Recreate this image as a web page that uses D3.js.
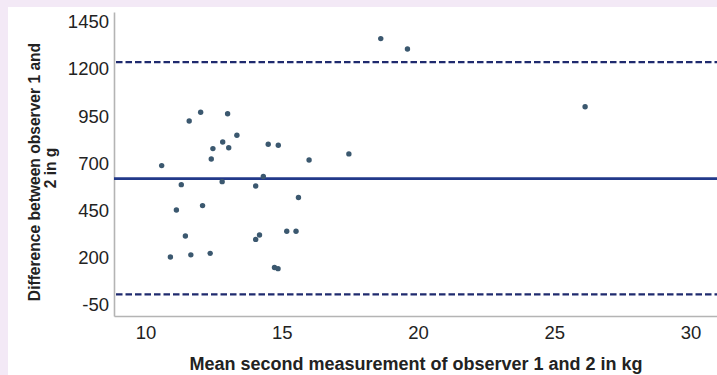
<!DOCTYPE html>
<html>
<head>
<meta charset="utf-8">
<script src="https://cdn.jsdelivr.net/npm/d3@7"></script>
<style>
    html, body { margin: 0; padding: 0; background: #f3e9f6; }
    svg { position: absolute; left: 0; top: 0; }
    text { font-family: "Liberation Sans", Arial, sans-serif; }
</style>
</head>
<body>
<script>
// Bland-Altman plot: mean of both observers vs. their difference
const meanKg = [10.59, 11.60, 12.02, 13.01, 13.35, 12.83, 12.47, 13.05, 12.41, 14.50,
    14.87, 16.00, 17.46, 11.31, 12.81, 14.32, 14.04, 11.13, 12.09, 15.61,
    11.46, 14.04, 14.18, 15.18, 15.52, 10.91, 11.66, 12.37, 14.73, 14.86,
    18.63, 19.61, 26.13];
const diffG = [684, 920, 967, 959, 845, 809, 774, 779, 719, 797,
    792, 714, 746, 583, 599, 626, 576, 449, 472, 515,
    311, 293, 316, 336, 336, 200, 211, 219, 144, 138,
    1357, 1302, 996];
const meanDiff = 615;
const limits = [1232, 2];
const xTicks = [10, 15, 20, 25, 30];
const yTicks = [-50, 200, 450, 700, 950, 1200, 1450];

const W = 717, H = 375;
const svg = d3.select("body").append("svg").attr("width", W).attr("height", H);

const x = d3.scaleLinear().domain([8.84, 30.97]).range([114, 717]);
const y = d3.scaleLinear().domain([-113, 1498]).range([316, 12]);

// white panel
svg.append("rect").attr("x", 8).attr("y", 7).attr("width", W - 8).attr("height", H - 7).attr("fill", "#fff");

const xAxis = svg.append("g").attr("transform", "translate(0,316)")
    .call(d3.axisBottom(x).tickValues(xTicks).tickSize(0).tickPadding(7).tickFormat(d => String(d)));
const yAxis = svg.append("g").attr("transform", "translate(114,0)")
    .call(d3.axisLeft(y).tickValues(yTicks).tickSize(0).tickPadding(5).tickFormat(d => String(d)));

[xAxis, yAxis].forEach(g => {
    g.select(".domain").attr("stroke", "#b4b4b4").attr("stroke-width", 1.6);
    g.selectAll("text").attr("font-size", 18.5).attr("fill", "#222")
        .style("font-family", "'Liberation Sans', Arial, sans-serif");
});
xAxis.selectAll("text").attr("dy", "0.85em");
yAxis.selectAll("text").attr("dy", "0.36em");

// reference lines
svg.append("line")
    .attr("x1", x.range()[0]).attr("x2", x.range()[1])
    .attr("y1", y(meanDiff)).attr("y2", y(meanDiff))
    .attr("stroke", "#22398a").attr("stroke-width", 2.6);

svg.selectAll(".limit").data(limits).join("line")
    .attr("class", "limit")
    .attr("x1", x.range()[0] + 2).attr("x2", x.range()[1])
    .attr("y1", d => y(d)).attr("y2", d => y(d))
    .attr("stroke", "#1f2a6e").attr("stroke-width", 2.2)
    .attr("stroke-dasharray", "6.5,3");

// points
svg.append("g").selectAll("circle")
    .data(meanKg.map((m, i) => ({ m, d: diffG[i] })))
    .join("circle")
    .attr("cx", d => x(d.m))
    .attr("cy", d => y(d.d))
    .attr("r", 2.7)
    .attr("fill", "#3b586f");

// axis titles
svg.append("text")
    .attr("x", 416).attr("y", 370)
    .attr("text-anchor", "middle")
    .attr("font-size", 18).attr("font-weight", "bold").attr("fill", "#222")
    .text("Mean second measurement of observer 1 and 2 in kg");

const yTitle = svg.append("text")
    .attr("transform", "rotate(-90)")
    .attr("text-anchor", "middle")
    .attr("font-size", 15.6).attr("font-weight", "bold").attr("fill", "#222");
yTitle.append("tspan").attr("x", -172).attr("y", 40).text("Difference between observer 1 and");
yTitle.append("tspan").attr("x", -168).attr("y", 56).text("2 in g");
</script>
</body>
</html>
